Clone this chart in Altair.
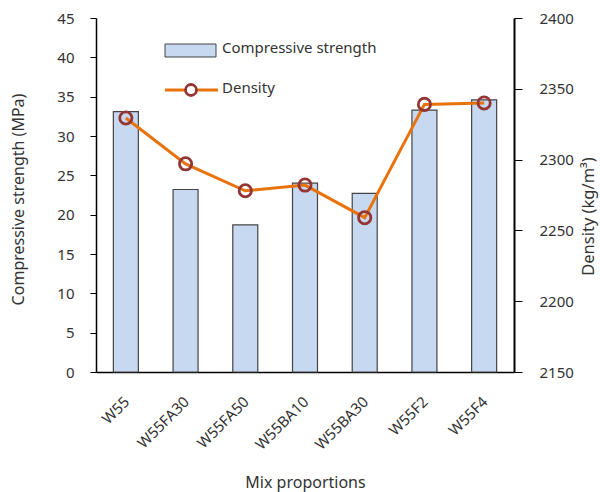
import altair as alt
import pandas as pd

# Mix designs and measured properties
mixes = ["W55", "W55FA30", "W55FA50", "W55BA10", "W55BA30", "W55F2", "W55F4"]
strength = [33.1, 23.2, 18.7, 24.0, 22.7, 33.3, 34.6]          # MPa
density = [2329.4, 2297.0, 2278.0, 2282.0, 2259.0, 2339.0, 2340.0]  # kg/m3

df = pd.DataFrame({"mix": mixes, "strength": strength, "density": density})
one = pd.DataFrame({"k": [0]})  # single row for legend marks

FONT = "Noto Sans"
TXT = "#333333"
BAR_FILL = "#C6D9F1"
LINE_COL = "#E8720C"
MARKER_COL = "#943634"

x_enc = alt.X(
    "mix:N",
    sort=mixes,
    scale=alt.Scale(paddingInner=0, paddingOuter=0),
    axis=alt.Axis(
        title="Mix proportions",
        labelAngle=-45,
        labelFontSize=15,
        labelColor=TXT,
        labelPadding=22,
        labelOffset=-4,
        ticks=False,
        domainColor="black",
        domainWidth=1.5,
        titleFontSize=16,
        titleFontWeight="normal",
        titleColor=TXT,
        titlePadding=22,
    ),
)

bars = alt.Chart(df).mark_bar(
    size=25, fill=BAR_FILL, stroke="#444444", strokeWidth=1.2
).encode(
    x=x_enc,
    y=alt.Y(
        "strength:Q",
        scale=alt.Scale(domain=[0, 45], nice=False),
        axis=alt.Axis(
            title="Compressive strength (MPa)",
            values=list(range(0, 46, 5)),
            grid=False,
            tickSize=6,
            tickColor="black",
            domainColor="black",
            domainWidth=1.5,
            labelFontSize=15,
            labelColor=TXT,
            labelPadding=16,
            titleFontSize=16,
            titleFontWeight="normal",
            titleColor=TXT,
            titlePadding=30,
            titleY=181,
        ),
    ),
)

y_den = alt.Y(
    "density:Q",
    scale=alt.Scale(domain=[2150, 2400], nice=False, zero=False),
    axis=alt.Axis(
        title="Density (kg/m³)",
        orient="right",
        values=list(range(2150, 2401, 50)),
        format="d",
        grid=False,
        tickSize=8,
        tickColor="black",
        domainColor="black",
        domainWidth=2,
        labelFontSize=15,
        labelColor=TXT,
        labelPadding=17,
        titleFontSize=16.5,
        titleFontWeight="normal",
        titleColor=TXT,
        titleAngle=270,
        titleBaseline="top",
        titlePadding=7,
        titleY=198,
    ),
)

line = alt.Chart(df).mark_line(color=LINE_COL, strokeWidth=3).encode(
    x=alt.X("mix:N", sort=mixes), y=y_den
)
points = alt.Chart(df).mark_point(
    shape="circle", size=150, stroke=MARKER_COL, strokeWidth=2.8, filled=False, opacity=1
).encode(x=alt.X("mix:N", sort=mixes), y=alt.Y("density:Q"))

density_layer = alt.layer(line, points)

# Legend drawn as plain marks inside the plot area
leg_box = alt.Chart(one).mark_rect(
    fill=BAR_FILL, stroke="#444444", strokeWidth=1
).encode(
    x=alt.value(69), x2=alt.value(120), y=alt.value(26), y2=alt.value(39)
)
leg_line = alt.Chart(one).mark_rule(color=LINE_COL, strokeWidth=3).encode(
    x=alt.value(69), x2=alt.value(122), y=alt.value(72)
)
leg_pt = alt.Chart(one).mark_point(
    shape="circle", size=120, stroke=MARKER_COL, strokeWidth=2.8, fill="white", filled=True, opacity=1
).encode(x=alt.value(95), y=alt.value(72))
leg_t1 = alt.Chart(one).mark_text(
    text="Compressive strength", align="left", baseline="middle",
    fontSize=15, font=FONT, fontWeight="normal", color=TXT
).encode(x=alt.value(126), y=alt.value(30))
leg_t2 = alt.Chart(one).mark_text(
    text="Density", align="left", baseline="middle",
    fontSize=15, font=FONT, fontWeight="normal", color=TXT
).encode(x=alt.value(126), y=alt.value(70))

chart = alt.layer(
    bars, density_layer, leg_box, leg_line, leg_pt, leg_t1, leg_t2
).resolve_scale(y="independent").properties(
    width=418,
    height=354,
    padding={"left": 96, "top": 18, "right": 86, "bottom": 120},
    autosize=alt.AutoSizeParams(type="none"),
).configure(font=FONT).configure_view(stroke=None)

chart.save("out.html", embed_options={"renderer": "svg", "actions": False})
